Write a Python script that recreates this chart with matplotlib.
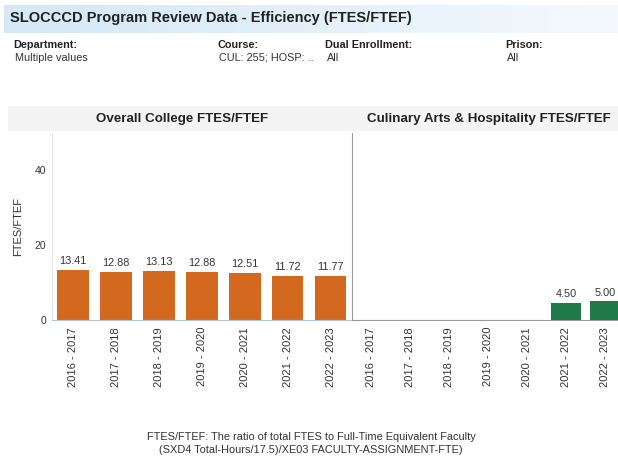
import matplotlib
matplotlib.use("Agg")
import matplotlib.pyplot as plt
import numpy as np
from matplotlib.patches import Rectangle
from matplotlib.colors import LinearSegmentedColormap

years = ["2016 - 2017", "2017 - 2018", "2018 - 2019", "2019 - 2020",
         "2020 - 2021", "2021 - 2022", "2022 - 2023"]
overall = [13.41, 12.88, 13.13, 12.88, 12.51, 11.72, 11.77]
culinary = [None, None, None, None, None, 4.50, 5.00]
yticks = [0, 20, 40]

W, H = 618, 458
fig = plt.figure(figsize=(W / 100, H / 100), dpi=100)
plt.rcParams['font.family'] = ['Liberation Sans', 'DejaVu Sans']

def fx(px):
    return px / W

def fy(py):
    return 1 - py / H

# Title band gradient
band = fig.add_axes([fx(4), fy(33), fx(614), (33 - 5) / H])
grad = np.linspace(0, 1, 256).reshape(1, -1)
cmap = LinearSegmentedColormap.from_list("b", ["#d4e8f7", "#e3f0fa", "#f5f9fd"])
band.imshow(grad, aspect="auto", cmap=cmap, extent=[0, 1, 0, 1])
band.axis("off")
fig.text(fx(10), fy(18), "SLOCCCD Program Review Data - Efficiency (FTES/FTEF)",
         fontsize=10.5, fontweight="bold", color="#222222", va="center", ha="left")

# Header filters
hdr = [("Department:", "Multiple values", 13),
       ("Course:", "CUL: 255; HOSP: ..", 217),
       ("Dual Enrollment:", "All", 325),
       ("Prison:", "All", 505)]
for lab, val, x in hdr:
    fig.text(fx(x), fy(45), lab, fontsize=7.8, fontweight="bold", color="#222222", va="center")
    fig.text(fx(x + 2), fy(58), val, fontsize=7.8, color="#333333", va="center")

# Panel title band
fig.patches.append(Rectangle((fx(8), fy(131)), fx(610), (131 - 106) / H,
                             transform=fig.transFigure, facecolor="#f4f4f4",
                             edgecolor="none", zorder=0))
fig.text(fx(182), fy(119), "Overall College FTES/FTEF", fontsize=9.6,
         fontweight="bold", color="#222222", ha="center", va="center")
fig.text(fx(489), fy(119), "Culinary Arts & Hospitality FTES/FTEF", fontsize=9.6,
         fontweight="bold", color="#222222", ha="center", va="center")

x = np.arange(len(years))
ylim = (0, 50)

ax1 = fig.add_axes([fx(51.5), fy(320), fx(300.5), (320 - 133) / H])
ax1.bar(x, overall, width=0.74, color="#d2691e", zorder=2)
for xi, v in zip(x, overall):
    ax1.text(xi, v + 1.0, f"{v:.2f}", ha="center", va="bottom", fontsize=7.8, color="#333333")
ax1.set_xlim(-0.5, len(years) - 0.5)
ax1.set_ylim(*ylim)
ax1.set_yticks(yticks)
ax1.set_ylabel("FTES/FTEF", fontsize=8, color="#333333", labelpad=8)
ax1.set_xticks(x)
ax1.set_xticklabels(years, rotation=90, fontsize=8, color="#333333")

cx = [i for i, v in enumerate(culinary) if v is not None]
cv = [v for v in culinary if v is not None]
ax2 = fig.add_axes([fx(351.5), fy(320), fx(273), (320 - 133) / H])
ax2.bar(cx, cv, width=0.76, color="#1e7a48", zorder=2)
for xi, v in zip(cx, cv):
    ax2.text(xi, v + 1.0, f"{v:.2f}", ha="center", va="bottom", fontsize=7.8, color="#333333")
ax2.set_xlim(-0.5, len(years) - 0.5)
ax2.set_ylim(*ylim)
ax2.set_yticks([])
ax2.set_xticks(x)
ax2.set_xticklabels(years, rotation=90, fontsize=8, color="#333333")

for ax in (ax1, ax2):
    ax.set_facecolor("none")
    ax.tick_params(axis="both", length=0, colors="#333333", pad=4)
    ax.spines["top"].set_visible(False)
    ax.spines["right"].set_visible(False)
ax1.tick_params(axis="y", labelsize=7.5)
ax1.tick_params(axis="x", pad=5, labelsize=8)
ax2.tick_params(axis="x", pad=5, labelsize=8)
ax1.spines["left"].set_color("#e4e4e4")
ax1.spines["bottom"].set_color("#a9c9e0")
ax2.spines["left"].set_color("#9a9a9a")
ax2.spines["bottom"].set_color("#9a9a9a")

fig.text(fx(311), fy(437), "FTES/FTEF: The ratio of total FTES to Full-Time Equivalent Faculty",
         fontsize=7.9, color="#333333", ha="center", va="center")
fig.text(fx(311), fy(450), "(SXD4 Total-Hours/17.5)/XE03 FACULTY-ASSIGNMENT-FTE)",
         fontsize=7.9, color="#333333", ha="center", va="center")

fig.savefig("out.png", dpi=100, facecolor="white")
